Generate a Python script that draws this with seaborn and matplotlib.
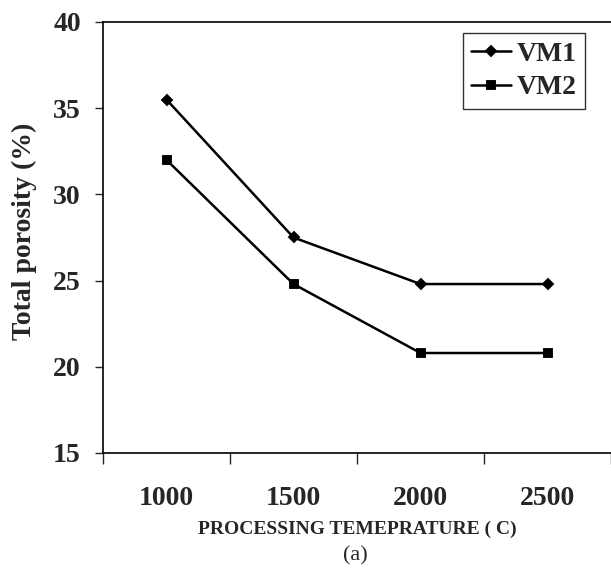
import pandas as pd
import matplotlib
matplotlib.use("Agg")
import matplotlib.pyplot as plt
import seaborn as sns
from matplotlib.ticker import FixedLocator

# dados
temperaturas = ["1000", "1500", "2000", "2500"]
vm1 = [35.5, 27.5, 24.8, 24.8]
vm2 = [32.0, 24.8, 20.8, 20.8]

df = pd.DataFrame({
    "temp": temperaturas * 2,
    "porosidade": vm1 + vm2,
    "amostra": ["VM1"] * 4 + ["VM2"] * 4,
})

sns.set_style("white")
plt.rcParams["font.family"] = ["Liberation Serif", "DejaVu Serif"]

fig = plt.figure(figsize=(6.11, 5.69), dpi=100)
ax = fig.add_axes([103 / 611, 1 - 453 / 569, 508 / 611, 431 / 569])

sns.pointplot(data=df, x="temp", y="porosidade", hue="amostra",
              order=temperaturas, palette=["black", "black"],
              markers=["D", "s"], linestyles=["-", "-"],
              markersize=5.5, linewidth=1.8, ax=ax)

ax.set_xlim(-0.5, 3.5)
ax.set_ylim(15, 40)
ax.set_yticks([15, 20, 25, 30, 35, 40])

# ticks entre as categorias (estilo excel)
ax.xaxis.set_minor_locator(FixedLocator([-0.5, 0.5, 1.5, 2.5, 3.5]))
ax.tick_params(axis="x", which="major", length=0, pad=24, labelsize=20)
ax.tick_params(axis="x", which="minor", length=8, width=1, direction="out", bottom=True)
ax.tick_params(axis="y", which="major", length=6, width=1, direction="out", left=True, labelsize=20, pad=10)
for lab in ax.get_xticklabels() + ax.get_yticklabels():
    lab.set_fontweight("bold")

for s in ["left", "bottom", "top"]:
    ax.spines[s].set_visible(True)
    ax.spines[s].set_color("black")
    ax.spines[s].set_linewidth(1.2)
ax.spines["right"].set_visible(False)

ax.set_ylabel("Total porosity (%)", fontsize=20, fontweight="bold")
ax.yaxis.set_label_coords(-0.13, 0.515)
ax.set_xlabel("PROCESSING TEMEPRATURE ( C)", fontsize=14, fontweight="bold", labelpad=7)
fig.text(103 / 611 + 252 / 611, 1 - 556 / 569, "(a)", ha="center", va="center", fontsize=16)

leg = ax.legend(loc="upper right", bbox_to_anchor=(0.949, 0.975), frameon=True,
                fancybox=False, edgecolor="black", fontsize=20, handlelength=1.45,
                borderpad=0.3, labelspacing=0.3, handletextpad=0.2, borderaxespad=0)
leg.get_frame().set_linewidth(1)
for t in leg.get_texts():
    t.set_fontweight("bold")

fig.savefig("out.png", dpi=100)
